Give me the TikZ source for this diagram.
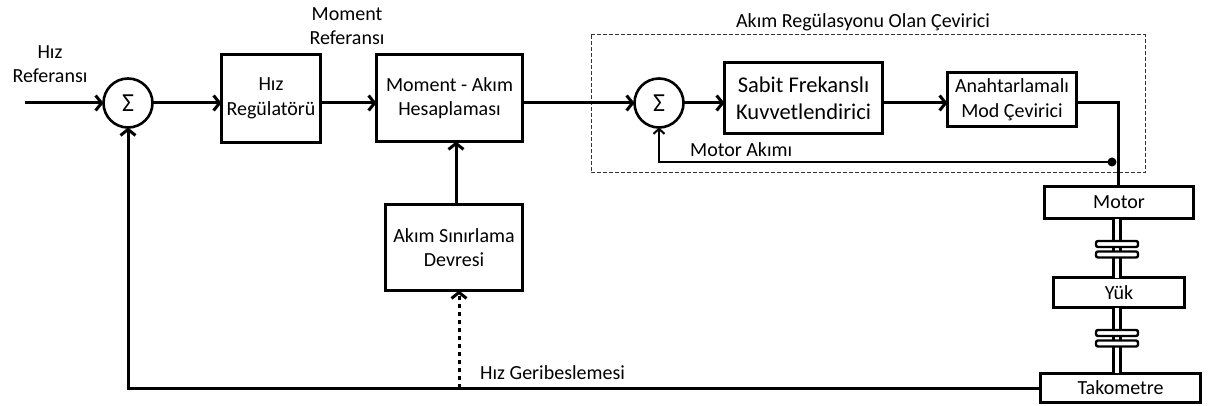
\documentclass[tikz,border=0pt]{standalone}
\usepackage{fontspec}
\setmainfont{Carlito}
\usetikzlibrary{arrows.meta}

\begin{document}
\begin{tikzpicture}[x=1pt,y=-1pt,
  txt/.style={font=\fontsize{20}{24.5}\selectfont, align=center, inner sep=0pt},
  blk/.style={draw, line width=3pt, inner sep=0pt, outer sep=0pt, txt},
  sumnode/.style={draw, circle, line width=2.6pt, minimum size=49pt, inner sep=0pt,
    outer sep=0pt, font=\fontsize{26}{26}\selectfont},
  wire/.style={line width=3pt},
  arr/.style={wire, -{Straight Barb[length=6pt,width=15pt]}},
  thinarr/.style={line width=2pt, -{Straight Barb[length=5pt,width=11pt]}},
  shaft/.style={line width=2.4pt, double=white, double distance=4.6pt},
  plate/.style={draw, fill=white, line width=2.4pt, rounded corners=2pt,
    minimum width=42pt, minimum height=6pt, inner sep=0pt, outer sep=0pt}
]
\useasboundingbox (0,0) rectangle (1214,406);

% outer speed loop blocks
\node[sumnode] (s1) at (128,103) {Σ};
\node[blk, minimum width=99pt, minimum height=88pt] (hreg) at (271,98.5) {Hız\\Regülatörü};
\node[blk, minimum width=146pt, minimum height=87pt] (mom) at (449.5,98) {Moment - Akım\\Hesaplaması};
\node[blk, minimum width=137pt, minimum height=86pt] (lim) at (454,247.5) {Akım Sınırlama\\Devresi};

% current-regulated converter
\draw[line width=1pt, black!80, dash pattern=on 4pt off 2pt] (591,35) rectangle (1145,173);
\node[txt] (convt) at (863,22) {Akım Regülasyonu Olan Çevirici};
\node[sumnode] (s2) at (659,103) {Σ};
\node[blk, minimum width=158pt, minimum height=71pt, font=\fontsize{22.5}{27}\selectfont] (amp) at (803.5,98) {Sabit Frekanslı\\Kuvvetlendirici};
\node[blk, minimum width=129pt, minimum height=54pt] (smc) at (1012,99.5) {Anahtarlamalı\\Mod Çevirici};

% motor, load and tachometer stack
\node[blk, minimum width=149pt, minimum height=32pt] (mot) at (1119,202.5) {Motor};
\node[blk, minimum width=131pt, minimum height=30pt] (load) at (1119,292.5) {Yük};
\node[blk, minimum width=160pt, minimum height=29pt] (tach) at (1120.5,387.5) {Takometre};

% couplings: positions first, shafts, then the plates on top
\coordinate (c1a) at (1117,244);
\coordinate (c1b) at (1117,254.5);
\coordinate (c2a) at (1117,333);
\coordinate (c2b) at (1117,343.5);
\draw[shaft] (c1a |- mot.south) -- (c1b);
\draw[shaft] (c1a) -- (c1a |- load.north);
\draw[shaft] (c2a |- load.south) -- (c2b);
\draw[shaft] (c2a) -- (c2a |- tach.north);
\node[plate] (p1a) at (c1a) {};
\node[plate] (p1b) at (c1b) {};
\node[plate] (p2a) at (c2a) {};
\node[plate] (p2b) at (c2b) {};

% input and labels
\coordinate (in) at (25,103);
\node[txt] (inlbl) at (50,64) {Hız\\Referansı};
\node[txt] (mreflbl) at (347,26) {Moment\\Referansı};

% forward path
\draw[arr] (in) -- (s1.west);
\draw[arr] (s1.east) -- (s1.east -| hreg.west);
\draw[arr] (hreg.east |- s1) -- (s1 -| mom.west);
\draw[arr] (mom.east |- s2) -- (s2.west);
\draw[arr] (s2.east) -- (s2.east -| amp.west);
\draw[arr] (amp.east |- s2) -- (s2 -| smc.west);
\coordinate (smcout) at (1118,103);
\draw[wire] (smc.east |- s2) -- (smcout) -- (smcout |- mot.north);

% current limit to torque computation
\coordinate (limout) at (456,203);
\draw[arr] (limout) -- (limout |- mom.south);

% motor current feedback
\coordinate (tapI) at (1112,162);
\fill (tapI) circle (4.5pt);
\draw[thinarr] (tapI) -- (tapI -| s2) -- (s2.south);
\node[txt, anchor=base west] (ilbl) at (690,157) {Motor Akımı};

% speed feedback
\coordinate (tapW) at (459,388);
\draw[arr] (tach.west |- tapW) -- (tapW -| s1) -- (s1.south);
\draw[line width=3pt, dash pattern=on 4.5pt off 3.5pt, -{Straight Barb[length=6pt,width=15pt]}]
  (tapW) -- (tapW |- lim.south);
\node[txt, anchor=base west] (wlbl) at (480,379) {Hız Geribeslemesi};
\end{tikzpicture}
\end{document}
